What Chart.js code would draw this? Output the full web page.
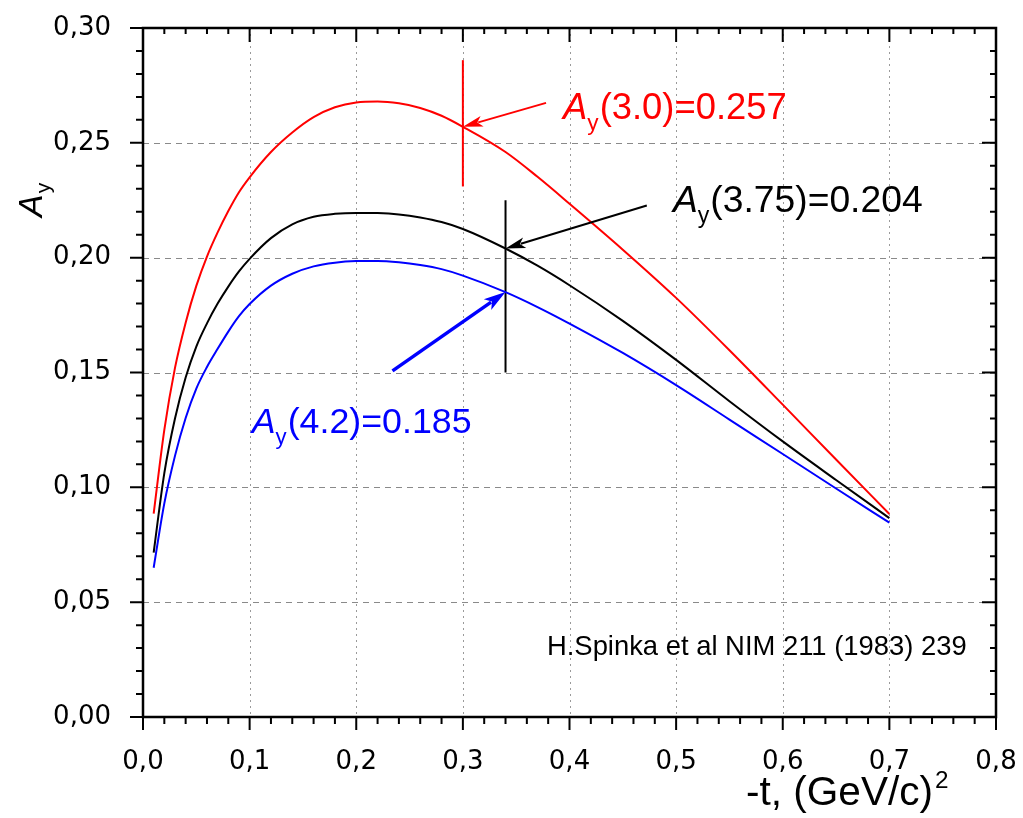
<!DOCTYPE html>
<html>
<head>
<meta charset="utf-8">
<script src="https://cdn.jsdelivr.net/npm/chart.js@4"></script>
<style>
html,body{margin:0;padding:0;background:#fff}
</style>
</head>
<body>
<canvas id="chart" width="1023" height="818"></canvas>
<script>
// -t values, (GeV/c)^2
const tValues=[0.01,0.02,0.03,0.04,0.05,0.06,0.07,0.08,0.09,0.10,0.12,0.14,0.16,0.18,0.20,0.22,0.24,0.26,0.28,0.30,0.34,0.37,0.40,0.45,0.50,0.55,0.60,0.65,0.70];
// analysing power A_y for 3.0, 3.75 and 4.2 GeV/c
const ay30 =[0.0885,0.125,0.152,0.1717,0.1877,0.2005,0.211,0.2203,0.2285,0.235,0.246,0.2545,0.2612,0.2655,0.2676,0.268,0.2672,0.2652,0.2618,0.257,0.246,0.2352,0.2235,0.2035,0.1825,0.1597,0.136,0.1121,0.0884];
const ay375=[0.0716,0.1062,0.130,0.1478,0.1613,0.1714,0.180,0.1874,0.194,0.1995,0.2085,0.2145,0.2178,0.2191,0.2195,0.2194,0.2188,0.2175,0.2155,0.2125,0.204,0.1965,0.188,0.1725,0.1555,0.1375,0.120,0.1032,0.0866];
const ay42 =[0.065,0.093,0.1137,0.1302,0.143,0.1524,0.1603,0.1678,0.1745,0.1798,0.1878,0.193,0.1962,0.1978,0.1985,0.1986,0.198,0.1968,0.195,0.1922,0.185,0.1785,0.1713,0.1585,0.1445,0.1295,0.1145,0.0995,0.0846];

const xTickValues=[0,0.1,0.2,0.3,0.4,0.5,0.6,0.7,0.8];
const yTickValues=[0,0.05,0.10,0.15,0.20,0.25,0.30];

// marked points (momentum, -t, A_y) and their labels
const markLabels=['3.0','3.75','4.2'];
const markT=[0.30,0.34,0.34];
const markAy=[0.257,0.204,0.185];
const markColors=['#ff0000','#000000','#0000ff'];

// vertical cursor lines [t, yLow, yHigh]
const cursorRed=[0.30,0.231,0.286];
const cursorBlack=[0.34,0.150,0.225];

// arrow tails (data units)
const arrowTailT=[0.378,0.4725,0.234];
const arrowTailAy=[0.2674,0.2227,0.1507];
// label anchor (left, baseline) and width in px
const labelT=[0.394,0.497,0.102];
const labelAy=[0.2604,0.2198,0.1235];
const labelW=[224,250,220];

const FONT='"Comic Sans MS","Liberation Sans",sans-serif';
const TICKFONT='"DejaVu Sans",sans-serif';

function pts(ys){return tValues.map((t,i)=>({x:t,y:ys[i]}));}

function drawAyLabel(ctx,x,y,arg,val,color,width){
  const rest='('+arg+')='+val;
  const measure=(s)=>{
    ctx.font='italic '+s+'px '+FONT; let w=ctx.measureText('A').width;
    ctx.font=(s*0.62)+'px '+FONT; w+=ctx.measureText('y').width+1;
    ctx.font=s+'px '+FONT; w+=ctx.measureText(rest).width;
    return w;
  };
  const s=30*width/measure(30);
  ctx.fillStyle=color;
  ctx.textAlign='left';ctx.textBaseline='alphabetic';
  ctx.font='italic '+s+'px '+FONT;
  ctx.fillText('A',x,y);
  let cx=x+ctx.measureText('A').width;
  ctx.font=(s*0.62)+'px '+FONT;
  ctx.fillText('y',cx,y+s*0.3);
  cx+=ctx.measureText('y').width+1;
  ctx.font=s+'px '+FONT;
  ctx.fillText(rest,cx,y);
}

function arrow(ctx,x0,y0,x1,y1,color,lw,hl,hw){
  const a=Math.atan2(y1-y0,x1-x0);
  ctx.save();
  ctx.strokeStyle=color;ctx.fillStyle=color;ctx.lineWidth=lw;
  ctx.beginPath();
  ctx.moveTo(x0,y0);
  ctx.lineTo(x1-Math.cos(a)*hl*0.8,y1-Math.sin(a)*hl*0.8);
  ctx.stroke();
  ctx.translate(x1,y1);ctx.rotate(a);
  ctx.beginPath();
  ctx.moveTo(0,0);ctx.lineTo(-hl,-hw/2);ctx.lineTo(-hl*0.75,0);ctx.lineTo(-hl,hw/2);ctx.closePath();
  ctx.fill();
  ctx.restore();
}

const framePlugin={
  id:'frame',
  beforeDatasetsDraw(chart){
    const {ctx,chartArea:a,scales:{x,y}}=chart;
    ctx.save();
    ctx.lineWidth=1;
    ctx.strokeStyle='#9a9a9a';ctx.setLineDash([2,4]);
    xTickValues.slice(1,-1).forEach(v=>{
      const px=Math.round(x.getPixelForValue(v))+0.5;
      ctx.beginPath();ctx.moveTo(px,a.top);ctx.lineTo(px,a.bottom);ctx.stroke();
    });
    ctx.strokeStyle='#8a8a8a';ctx.setLineDash([6,5]);
    yTickValues.slice(1,-1).forEach(v=>{
      const py=Math.round(y.getPixelForValue(v))+0.5;
      ctx.beginPath();ctx.moveTo(a.left,py);ctx.lineTo(a.right,py);ctx.stroke();
    });
    ctx.restore();
  },
  afterDatasetsDraw(chart){
    const {ctx,scales:{x,y}}=chart;
    ctx.save();
    const hl=[20,20,22],hw=[11,11,13],lw=[2,2,3.5];
    for(let i=0;i<markT.length;i++){
      arrow(ctx,x.getPixelForValue(arrowTailT[i]),y.getPixelForValue(arrowTailAy[i]),
        x.getPixelForValue(markT[i]),y.getPixelForValue(markAy[i]),markColors[i],lw[i],hl[i],hw[i]);
      drawAyLabel(ctx,x.getPixelForValue(labelT[i]),y.getPixelForValue(labelAy[i]),
        markLabels[i],markAy[i].toFixed(3),markColors[i],labelW[i]);
    }
    ctx.fillStyle='#000';
    ctx.textAlign='right';ctx.textBaseline='alphabetic';
    const note='H.Spinka et al NIM 211 (1983) 239';
    ctx.font='24px '+FONT;
    const s=24*420/ctx.measureText(note).width;
    ctx.font=s+'px '+FONT;
    ctx.fillText(note,x.getPixelForValue(0.7725),y.getPixelForValue(0.0271));
    ctx.restore();
  },
  afterDraw(chart){
    const {ctx,chartArea:a,scales:{x,y}}=chart;
    ctx.save();
    ctx.strokeStyle='#000';ctx.lineWidth=2.5;ctx.setLineDash([]);
    ctx.strokeRect(a.left,a.top,a.right-a.left,a.bottom-a.top);
    ctx.lineWidth=2;
    ctx.beginPath();
    for(let i=0;i<=40;i++){
      const v=i*0.02;if(v>0.8001)break;
      const px=x.getPixelForValue(v);
      const major=i%5===0, L=major?13:7;
      ctx.moveTo(px,a.bottom);ctx.lineTo(px,a.bottom+L);
      ctx.moveTo(px,a.top);ctx.lineTo(px,a.top+(major?14:6));
    }
    for(let i=0;i<=30;i++){
      const v=i*0.01;
      const py=y.getPixelForValue(v);
      const major=i%5===0, L=major?13:7;
      ctx.moveTo(a.left,py);ctx.lineTo(a.left-L,py);
      ctx.moveTo(a.right,py);ctx.lineTo(a.right-(major?14:6),py);
    }
    ctx.stroke();
    ctx.fillStyle='#000';ctx.textBaseline='alphabetic';ctx.textAlign='left';
    ctx.save();
    ctx.translate(42,217);ctx.rotate(-Math.PI/2);
    ctx.font='italic 34px '+FONT;
    ctx.fillText('A',0,0);
    const aw=ctx.measureText('A').width;
    ctx.font='21px '+FONT;
    ctx.fillText('y',aw+1,8);
    ctx.restore();
    const xt='-t, (GeV/c)';
    ctx.font='30px '+FONT;
    const s=30*187/ctx.measureText(xt).width;
    ctx.font=s+'px '+FONT;
    ctx.fillText(xt,746,805);
    const w=ctx.measureText(xt).width;
    ctx.font=(s*0.6)+'px '+FONT;
    ctx.fillText('2',746+w+2,788);
    ctx.restore();
  }
};

const cursor=(c,col)=>({data:[{x:c[0],y:c[1]},{x:c[0],y:c[2]}],borderColor:col,borderWidth:2,showLine:true,pointRadius:0});

new Chart(document.getElementById('chart').getContext('2d'),{
  type:'scatter',
  data:{datasets:[
    {label:'3.0',data:pts(ay30),borderColor:'#ff0000',borderWidth:2,showLine:true,pointRadius:0,cubicInterpolationMode:'monotone'},
    {label:'3.75',data:pts(ay375),borderColor:'#000000',borderWidth:2,showLine:true,pointRadius:0,cubicInterpolationMode:'monotone'},
    {label:'4.2',data:pts(ay42),borderColor:'#0000ff',borderWidth:2,showLine:true,pointRadius:0,cubicInterpolationMode:'monotone'},
    cursor(cursorRed,'#ff0000'),
    cursor(cursorBlack,'#000000')
  ]},
  options:{
    responsive:false,animation:false,devicePixelRatio:1,
    layout:{padding:{left:0,right:27,top:28,bottom:0}},
    plugins:{legend:{display:false},tooltip:{enabled:false}},
    scales:{
      x:{type:'linear',min:0,max:0.8,
        afterBuildTicks:s=>{s.ticks=xTickValues.map(v=>({value:v}));},
        afterFit:s=>{s.height=101;s.paddingLeft=0;s.paddingRight=0;},
        grid:{display:false},border:{display:false},
        ticks:{padding:22,color:'#000',font:{family:TICKFONT,size:26},maxRotation:0,
          callback:v=>v.toFixed(1).replace('.',',')}},
      y:{type:'linear',min:0,max:0.30,
        afterBuildTicks:s=>{s.ticks=yTickValues.map(v=>({value:v}));},
        afterFit:s=>{s.width=143;s.paddingTop=0;s.paddingBottom=0;},
        grid:{display:false},border:{display:false},
        ticks:{padding:24,color:'#000',font:{family:TICKFONT,size:26},
          callback:v=>v.toFixed(2).replace('.',',')}}
    }
  },
  plugins:[framePlugin]
});
</script>
</body>
</html>
